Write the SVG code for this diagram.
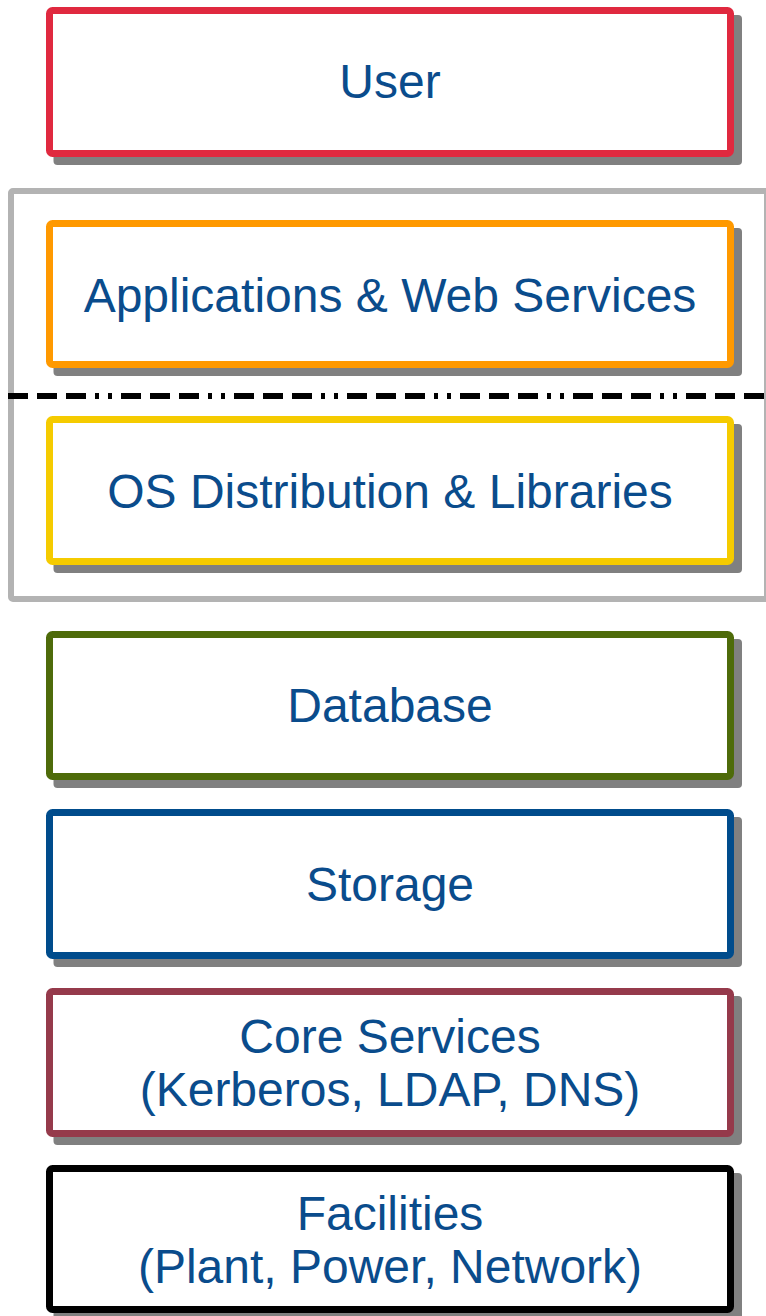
<svg xmlns="http://www.w3.org/2000/svg" width="766" height="1316" viewBox="0 0 766 1316">
  <style>
    .shadow { fill: #808080; }
    .box { fill: #ffffff; stroke-width: 7; }
    .lbl { font-family: "Liberation Sans", Arial, sans-serif; font-size: 48px; fill: #0A4C8C; text-anchor: middle; }
  </style>
  <rect width="766" height="1316" fill="#ffffff"/>
  <g id="container">
    <rect x="11" y="191" width="756" height="408" fill="none" stroke="#B3B3B3" stroke-width="6" rx="2"/>
  </g>
  <g id="connectors">
    <line x1="8" y1="396" x2="766" y2="396" stroke="#000000" stroke-width="6" stroke-dasharray="20 9 20 9 20 9 4 9 4 9"/>
  </g>
  <g id="user">
    <rect class="shadow" x="53.5" y="15" width="688.5" height="150" rx="4"/>
    <rect class="box" x="49.5" y="10.5" width="681" height="143" rx="3" stroke="#E0293F"/>
    <text class="lbl" x="390" y="98">User</text>
  </g>
  <g id="apps">
    <rect class="shadow" x="53.5" y="228" width="688.5" height="148" rx="4"/>
    <rect class="box" x="49.5" y="223.5" width="681" height="141" rx="3" stroke="#FF9900"/>
    <text class="lbl" x="390" y="312">Applications &amp; Web Services</text>
  </g>
  <g id="os">
    <rect class="shadow" x="53.5" y="424" width="688.5" height="149" rx="4"/>
    <rect class="box" x="49.5" y="419.5" width="681" height="142" rx="3" stroke="#F5CB00"/>
    <text class="lbl" x="390" y="508">OS Distribution &amp; Libraries</text>
  </g>
  <g id="database">
    <rect class="shadow" x="53.5" y="639" width="688.5" height="149" rx="4"/>
    <rect class="box" x="49.5" y="634.5" width="681" height="142" rx="3" stroke="#4E6B0A"/>
    <text class="lbl" x="390" y="722">Database</text>
  </g>
  <g id="storage">
    <rect class="shadow" x="53.5" y="817" width="688.5" height="150" rx="4"/>
    <rect class="box" x="49.5" y="812.5" width="681" height="143" rx="3" stroke="#004C8C"/>
    <text class="lbl" x="390" y="901">Storage</text>
  </g>
  <g id="core">
    <rect class="shadow" x="53.5" y="996" width="688.5" height="149" rx="4"/>
    <rect class="box" x="49.5" y="991.5" width="681" height="142" rx="3" stroke="#953A4B"/>
    <text class="lbl" x="390" y="1053">Core Services</text>
    <text class="lbl" x="390" y="1106">(Kerberos, LDAP, DNS)</text>
  </g>
  <g id="facilities">
    <rect class="shadow" x="53.5" y="1173" width="688.5" height="148" rx="4"/>
    <rect class="box" x="49.5" y="1168.5" width="681" height="141" rx="3" stroke="#000000"/>
    <text class="lbl" x="390" y="1230">Facilities</text>
    <text class="lbl" x="390" y="1283">(Plant, Power, Network)</text>
  </g>
</svg>
